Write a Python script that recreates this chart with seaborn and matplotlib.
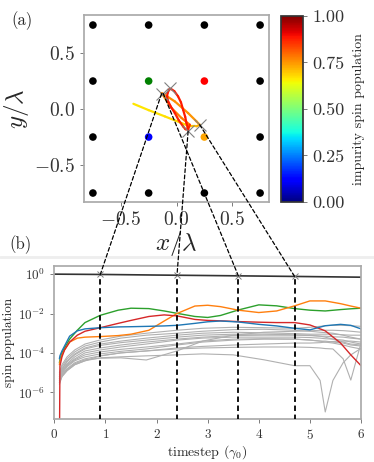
import matplotlib
matplotlib.use("Agg")
import matplotlib.pyplot as plt
import numpy as np
import seaborn as sns
from matplotlib.collections import LineCollection
from matplotlib.patches import ConnectionPatch
from matplotlib.lines import Line2D
from matplotlib.ticker import FormatStrFormatter

# lattice sites (units of lambda)
site_x = [-0.75, -0.25, 0.25, 0.75, -0.75, 0.75, -0.75, 0.75, -0.75, -0.25, 0.25, 0.75]
site_y = [0.75, 0.75, 0.75, 0.75, 0.25, 0.25, -0.25, -0.25, -0.75, -0.75, -0.75, -0.75]
near_x = [-0.25, 0.25, -0.25, 0.25]
near_y = [0.25, 0.25, -0.25, -0.25]
near_colors = ["green", "red", "blue", "orange"]

# impurity trajectory, with its spin population
traj_x = [-0.387, -0.25, -0.104, 0.045, 0.119, 0.179, 0.208,
          0.179, 0.104, -0.015, -0.08, -0.134,
          -0.045, 0.045, 0.119, 0.104,
          0.08, 0.059, 0.02, -0.015, -0.05, -0.075, -0.085, -0.08, -0.065, -0.05,
          -0.02, 0.014, 0.04, 0.059, 0.078, 0.089, 0.1, 0.104]
traj_y = [0.047, -0.01, -0.066, -0.125, -0.155, -0.155, -0.14,
          -0.11, -0.036, 0.068, 0.11, 0.143,
          0.009, -0.08, -0.14, -0.185,
          -0.18, -0.155, -0.1, -0.036, 0.02, 0.068, 0.11, 0.143, 0.175, 0.18,
          0.16, 0.113, 0.06, -0.006, -0.07, -0.125, -0.165, -0.185]
traj_pop = [0.66, 0.665, 0.67, 0.675, 0.68, 0.70, 0.72,
            0.74, 0.75, 0.75, 0.76, 0.76,
            0.77, 0.77, 0.78, 0.86,
            0.87, 0.87, 0.87, 0.87, 0.88, 0.88, 0.88, 0.88, 0.88, 0.88,
            0.88, 0.88, 0.88, 0.88, 0.88, 0.88, 0.88, 0.88]

# snapshot markers on the trajectory and the links to the time axis
mark_x = [-0.134, -0.06, 0.104, 0.208]
mark_y = [0.137, 0.1875, -0.2, -0.14]
snap_t = [0.9, 2.4, 3.6, 4.7]
link_x = [-0.134, 0.104, -0.12, 0.208]
link_y = [0.137, -0.2, 0.14, -0.14]

# impurity population (black curve)
imp_t = [0, 1, 2, 3, 4, 5, 6]
imp_pop = [1.0, 0.96, 0.9, 0.85, 0.8, 0.75, 0.7]

# neighbour populations, log10 values
t_col = [0.1, 0.11, 0.15, 0.2, 0.3, 0.45, 0.6, 0.9, 1.25, 1.5, 1.85, 2.15, 2.4,
         2.75, 3.0, 3.25, 3.6, 4.0, 4.35, 4.7, 5.0, 5.3, 5.6, 5.8, 6.0]
green_log = [-4.5, -4.35, -4.0, -3.75, -3.3, -2.85, -2.46, -2.09, -1.83, -1.73, -1.75, -1.87, -1.99,
             -2.15, -2.2, -2.1, -1.82, -1.56, -1.61, -1.75, -1.83, -1.87, -1.8, -1.76, -1.73]
orange_log = [-4.6, -4.45, -4.1, -3.85, -3.45, -3.25, -3.2, -3.17, -3.12, -3.05, -2.85, -2.38, -2.0,
              -1.62, -1.58, -1.65, -1.83, -1.95, -1.87, -1.61, -1.36, -1.36, -1.5, -1.62, -1.73]
red_log = [-9.0, -4.67, -4.2, -3.85, -3.45, -3.1, -2.9, -2.72, -2.5, -2.35, -2.15, -2.07, -2.12,
           -2.3, -2.35, -2.37, -2.41, -2.44, -2.46, -2.46, -2.58, -2.88, -3.5, -4.1, -4.65]
blue_log = [-4.3, -4.15, -3.9, -3.65, -3.15, -2.88, -2.78, -2.72, -2.68, -2.67, -2.65, -2.63, -2.6,
            -2.5, -2.42, -2.38, -2.43, -2.55, -2.63, -2.75, -2.83, -2.62, -2.55, -2.6, -2.78]

# other sites (grey), log10 values
t_gray = [0.1, 0.15, 0.25, 0.4, 0.6, 0.9, 1.3, 1.8, 2.4, 2.9, 3.5, 4.1, 4.7,
          5.0, 5.2, 5.3, 5.45, 5.65, 5.8, 6.0]
gray_logs = [
    [-5.0, -4.6, -4.2, -3.85, -3.55, -3.34, -3.15, -3.0, -2.85, -2.75, -2.7, -2.72, -2.75, -2.7, -2.65, -2.62, -2.6, -2.6, -2.62, -2.65],
    [-5.1, -4.7, -4.3, -3.95, -3.65, -3.45, -3.25, -3.1, -3.0, -2.9, -2.82, -2.8, -2.85, -2.9, -2.95, -2.97, -3.0, -3.1, -3.2, -3.3],
    [-5.2, -4.8, -4.4, -4.05, -3.75, -3.55, -3.4, -3.25, -3.1, -3.0, -2.95, -2.98, -3.02, -3.05, -3.05, -3.05, -3.05, -3.08, -3.1, -3.1],
    [-5.2, -4.85, -4.45, -4.1, -3.8, -3.62, -3.48, -3.35, -3.2, -3.1, -3.05, -3.05, -3.08, -3.1, -3.15, -3.2, -3.3, -3.45, -3.55, -3.6],
    [-5.3, -4.9, -4.55, -4.2, -3.9, -3.75, -3.6, -3.45, -3.3, -3.2, -3.12, -3.1, -3.1, -3.12, -3.15, -3.15, -3.18, -3.2, -3.25, -3.3],
    [-5.3, -4.95, -4.6, -4.3, -4.0, -3.85, -3.7, -3.55, -3.35, -3.25, -3.2, -3.2, -3.2, -3.22, -3.25, -3.28, -3.3, -3.35, -3.45, -3.55],
    [-5.4, -5.0, -4.65, -4.35, -4.1, -3.95, -3.82, -3.7, -3.55, -3.4, -3.3, -3.28, -3.3, -3.35, -3.4, -3.45, -3.5, -3.6, -3.7, -3.8],
    [-5.4, -5.05, -4.7, -4.4, -4.2, -4.05, -3.92, -3.8, -3.6, -3.45, -3.35, -3.3, -3.3, -3.35, -3.4, -3.4, -3.45, -3.5, -3.6, -3.65],
    [-5.5, -5.1, -4.8, -4.5, -4.3, -4.15, -4.0, -3.9, -3.75, -3.67, -3.6, -3.55, -3.5, -3.5, -3.48, -3.45, -3.42, -3.4, -3.4, -3.45],
    [-5.5, -5.15, -4.85, -4.55, -4.35, -4.27, -4.25, -4.36, -3.9, -3.4, -3.1, -2.95, -2.9, -2.88, -2.85, -2.85, -2.85, -2.87, -2.9, -2.95],
    [-5.6, -5.2, -4.9, -4.6, -4.4, -4.15, -4.0, -3.9, -3.8, -3.75, -3.72, -3.7, -3.7, -3.72, -3.75, -3.78, -3.8, -4.3, -5.38, -3.5],
    [-5.5, -5.2, -4.9, -4.6, -4.4, -4.25, -4.2, -4.15, -4.1, -4.05, -4.1, -4.35, -4.65, -4.65, -5.4, -7.0, -5.4, -4.5, -4.1, -3.77],
]

sns.set_theme(style="ticks")
plt.rcParams.update({
    "font.family": "cmr10",
    "mathtext.fontset": "cm",
    "axes.formatter.use_mathtext": True,
    "axes.edgecolor": "#aaaaaa",
    "xtick.color": "#666666",
    "ytick.color": "#666666",
    "xtick.labelcolor": "#333333",
    "ytick.labelcolor": "#333333",
})

fig = plt.figure(figsize=(3.74, 4.62), dpi=100)
ax_top = fig.add_axes([0.2246, 0.5628, 0.4947, 0.4048])
cax = fig.add_axes([0.7513, 0.5628, 0.0588, 0.4026])
ax_bot = fig.add_axes([0.1452, 0.0931, 0.8201, 0.3312])

# --- (a) lattice and trajectory ---
sns.scatterplot(x=site_x, y=site_y, color="black", s=30, edgecolor="none", ax=ax_top, zorder=3)
sns.scatterplot(x=near_x, y=near_y, hue=near_colors, palette={c: c for c in near_colors},
                s=30, edgecolor="none", ax=ax_top, legend=False, zorder=3)

cmap = plt.get_cmap("jet")
norm = plt.Normalize(0, 1)
pts = np.column_stack([traj_x, traj_y])
segs = np.stack([pts[:-1], pts[1:]], axis=1)
lc = LineCollection(segs, cmap=cmap, norm=norm, linewidth=1.6, zorder=2,
                    capstyle="round", joinstyle="round")
lc.set_array(np.array(traj_pop[1:]))
ax_top.add_collection(lc)
ax_top.plot(mark_x, mark_y, "x", color="gray", ms=9, mew=0.8, zorder=4)

ax_top.set_xlim(-0.83, 0.83)
ax_top.set_ylim(-0.83, 0.84)
ax_top.set_xticks([-0.5, 0.0, 0.5])
ax_top.set_yticks([-0.5, 0.0, 0.5])
ax_top.tick_params(labelsize=14, length=3, width=0.6)
ax_top.set_xlabel(r"$x/\lambda$", fontsize=18, labelpad=0)
ax_top.set_ylabel(r"$y/\lambda$", fontsize=18, labelpad=2)

sm = matplotlib.cm.ScalarMappable(norm=norm, cmap=cmap)
cb = fig.colorbar(sm, cax=cax)
cb.set_ticks([0, 0.25, 0.5, 0.75, 1.0])
cb.ax.yaxis.set_major_formatter(FormatStrFormatter("%.2f"))
cb.ax.tick_params(labelsize=13, length=3, width=0.6)
cb.set_label("impurity spin population", fontsize=10, labelpad=6)
cb.outline.set_edgecolor("#333333")

# --- (b) spin populations ---
for row in gray_logs:
    sns.lineplot(x=t_gray, y=10.0 ** np.array(row), color="#b0b0b0", lw=0.8, ax=ax_bot)
for vals, col in [(green_log, "tab:green"), (orange_log, "tab:orange"),
                  (red_log, "tab:red"), (blue_log, "tab:blue")]:
    sns.lineplot(x=t_col, y=10.0 ** np.array(vals), color=col, lw=1.0, ax=ax_bot)
sns.lineplot(x=imp_t, y=imp_pop, color="#333333", lw=1.2, ax=ax_bot)

snap_pop = np.interp(snap_t, imp_t, imp_pop)
ax_bot.set_yscale("log")
ax_bot.vlines(snap_t, 4e-8, snap_pop, colors="black", linestyles=(0, (3, 2)), lw=1.3, zorder=5)
ax_bot.plot(snap_t, snap_pop, "x", color="gray", ms=5, mew=0.7, zorder=6)

ax_bot.set_xlim(0, 6)
ax_bot.set_ylim(4.4e-8, 2.6)
ax_bot.set_yticks([1, 1e-2, 1e-4, 1e-6])
ax_bot.minorticks_off()
ax_bot.set_xticks(range(7))
ax_bot.tick_params(labelsize=9.5, length=3, width=0.6)
ax_bot.set_xlabel(r"timestep ($\gamma_0$)", fontsize=10, labelpad=1)
ax_bot.set_ylabel("spin population", fontsize=9.5, labelpad=2)

# dashed links from trajectory snapshots to the time axis
for t, p, x, y in zip(snap_t, snap_pop, link_x, link_y):
    con = ConnectionPatch(xyA=(x, y), coordsA="data", axesA=ax_top,
                          xyB=(t, p), coordsB="data", axesB=ax_bot,
                          color="black", lw=0.9, linestyle=(0, (3, 2)), zorder=10)
    fig.add_artist(con)

fig.add_artist(Line2D([0, 1], [0.444, 0.444], transform=fig.transFigure,
                      color="#eeeeee", lw=2, zorder=0))

fig.text(0.03, 0.945, "(a)", fontsize=12)
fig.text(0.025, 0.46, "(b)", fontsize=12)

plt.savefig("out.png", dpi=100)
